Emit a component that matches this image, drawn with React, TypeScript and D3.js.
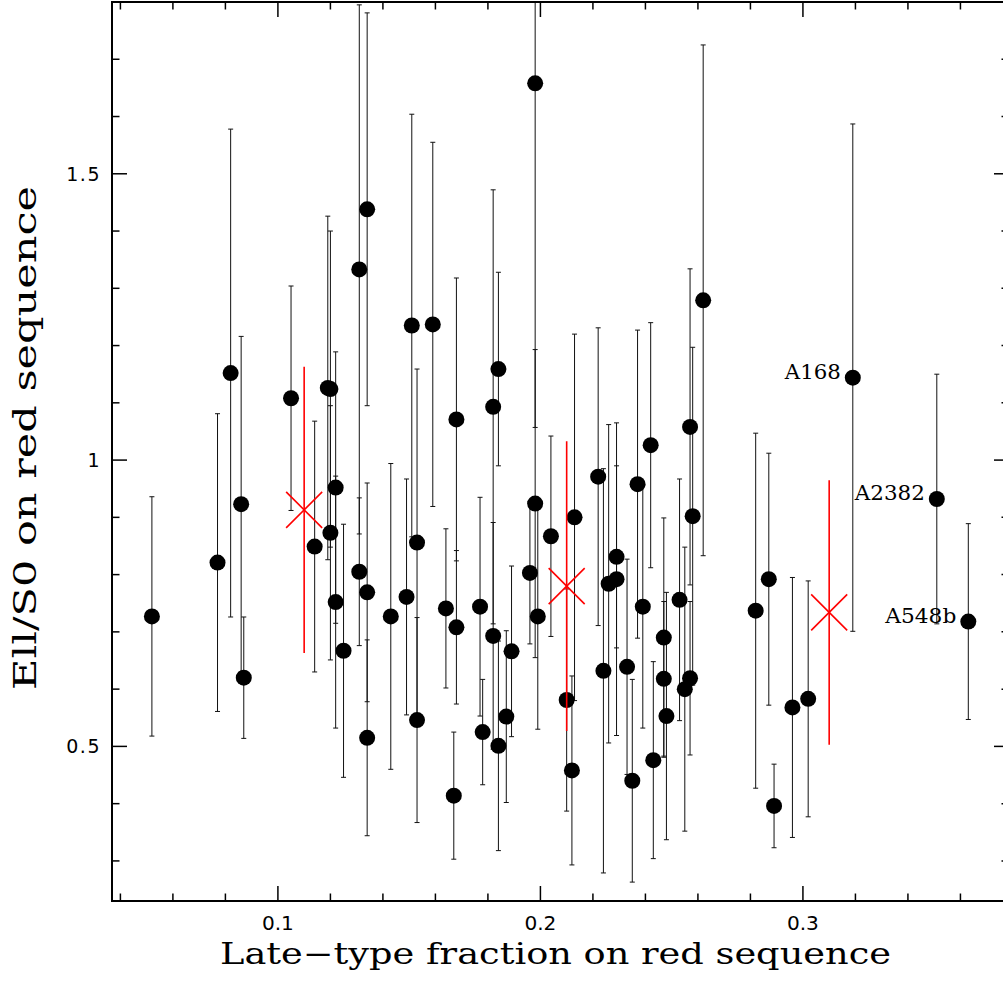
import React from 'react';
import * as d3 from 'd3';

// Late-type fraction on red sequence (x) for each cluster
const lateFrac = [
  0.052, 0.077, 0.082, 0.086, 0.087, 0.105, 0.114, 0.119, 0.120, 0.122,
  0.120, 0.122, 0.125, 0.131, 0.134, 0.134, 0.131, 0.134, 0.143, 0.149,
  0.151, 0.153, 0.153, 0.159, 0.164, 0.168, 0.168, 0.167, 0.177, 0.178,
  0.182, 0.182, 0.184, 0.184, 0.187, 0.189, 0.196, 0.198, 0.198, 0.199,
  0.204, 0.210, 0.212, 0.213, 0.222, 0.224, 0.226, 0.229, 0.229, 0.233,
  0.235, 0.237, 0.239, 0.242, 0.243, 0.247, 0.247, 0.248, 0.253, 0.255,
  0.257, 0.257, 0.258, 0.262, 0.282, 0.287, 0.289, 0.296, 0.302, 0.319,
  0.351, 0.363,
];

// Ell/S0 on red sequence (y)
const ellS0 = [
  0.727, 0.821, 1.152, 0.923, 0.620, 1.108, 0.849, 1.126, 1.124, 0.952,
  0.873, 0.752, 0.667, 0.805, 0.769, 1.438, 1.333, 0.515, 0.727, 0.761,
  1.235, 0.856, 0.546, 1.237, 0.741, 1.071, 0.708, 0.414, 0.744, 0.525,
  1.093, 0.693, 1.159, 0.501, 0.552, 0.666, 0.803, 0.924, 1.658, 0.727,
  0.867, 0.581, 0.458, 0.900, 0.971, 0.632, 0.784, 0.792, 0.831, 0.639,
  0.440, 0.958, 0.744, 1.026, 0.476, 0.690, 0.618, 0.553, 0.756, 0.600,
  0.619, 1.058, 0.902, 1.279, 0.737, 0.792, 0.396, 0.568, 0.583, 1.144,
  0.932, 0.718,
];

// symmetric errors on Ell/S0
const ellS0Err = [
  0.209, 0.260, 0.426, 0.293, 0.106, 0.196, 0.219, 0.300, 0.276, 0.237,
  0.222, 0.220, 0.221, 0.129, 0.191, 0.343, 0.462, 0.171, 0.267, 0.206,
  0.369, 0.303, 0.179, 0.318, 0.139, 0.247, 0.134, 0.111, 0.191, 0.092,
  0.379, 0.198, 0.169, 0.183, 0.150, 0.149, 0.124, 0.269, 0.601, 0.197,
  0.175, 0.194, 0.165, 0.320, 0.260, 0.353, 0.278, 0.273, 0.159, 0.188,
  0.177, 0.269, 0.212, 0.214, 0.172, 0.209, 0.135, 0.216, 0.211, 0.248,
  0.134, 0.276, 0.295, 0.446, 0.310, 0.220, 0.073, 0.227, 0.206, 0.443,
  0.218, 0.171,
];

// binned means (red crosses)
const meanFrac = [0.11, 0.21, 0.31];
const meanEll = [0.913, 0.780, 0.734];
const meanErr = [0.250, 0.253, 0.231];

// labelled clusters
const labelNames = ['A168', 'A2382', 'A548b'];
const labelFrac = [0.319, 0.351, 0.363];
const labelEll = [1.144, 0.932, 0.718];

// axis ticks
const xMajor = [0.1, 0.2, 0.3];
const xMajorLabels = ['0.1', '0.2', '0.3'];
const yMajor = [0.5, 1, 1.5];
const yMajorLabels = ['0.5', '1', '1.5'];

const W = 1003;
const H = 985;
const left = 112;
const right = 1009;
const top = 2;
const bottom = 901;

export default function App() {
  const x = d3.scaleLinear().domain([0.0368, 0.3785]).range([left, right]);
  const y = d3.scaleLinear().domain([0.23, 1.8]).range([bottom, top]);

  const xMinor = d3.range(4, 38, 2).map((v) => v / 100).filter((v) => v >= 0.0368 && v <= 0.3785 && !xMajor.some((m) => Math.abs(m - v) < 1e-6));
  const yMinor = d3.range(3, 18).map((v) => v / 10).filter((v) => v >= 0.23 && v <= 1.8 && !yMajor.some((m) => Math.abs(m - v) < 1e-6));

  const major = 15;
  const minor = 7.5;
  const cap = 2.5;
  const arm = 18;

  const serif = "'DejaVu Serif', 'Liberation Serif', serif";
  const sans = "'DejaVu Sans', 'Liberation Sans', sans-serif";

  const labelLen = [56, 70, 71];

  return (
    <svg width={W} height={H} style={{ position: 'absolute', left: 0, top: 0, background: '#fff' }}>
      <defs>
        <clipPath id="plotclip">
          <rect x={left} y={top} width={right - left} height={bottom - top} />
        </clipPath>
      </defs>
      <rect x={0} y={0} width={W} height={H} fill="#fff" />

      {/* error bars */}
      <g clipPath="url(#plotclip)" stroke="#111" strokeWidth={1} fill="none">
        {lateFrac.map((f, i) => {
          const cx = x(f);
          const y1 = y(ellS0[i] + ellS0Err[i]);
          const y2 = y(ellS0[i] - ellS0Err[i]);
          return (
            <g key={i}>
              <line x1={cx} x2={cx} y1={y1} y2={y2} />
              <line x1={cx - cap} x2={cx + cap} y1={y1} y2={y1} />
              <line x1={cx - cap} x2={cx + cap} y1={y2} y2={y2} />
            </g>
          );
        })}
      </g>

      {/* points */}
      <g fill="#000">
        {lateFrac.map((f, i) => (
          <circle key={i} cx={x(f)} cy={y(ellS0[i])} r={8} />
        ))}
      </g>

      {/* binned means */}
      <g stroke="#ff0000" strokeWidth={1.6} fill="none">
        {meanFrac.map((f, i) => {
          const cx = x(f);
          const cy = y(meanEll[i]);
          return (
            <g key={i}>
              <line x1={cx} x2={cx} y1={y(meanEll[i] + meanErr[i])} y2={y(meanEll[i] - meanErr[i])} />
              <line x1={cx - arm} x2={cx + arm} y1={cy - arm} y2={cy + arm} />
              <line x1={cx - arm} x2={cx + arm} y1={cy + arm} y2={cy - arm} />
            </g>
          );
        })}
      </g>

      {/* cluster labels */}
      <g fontFamily={serif} fontSize={20} fill="#000">
        {labelNames.map((n, i) => (
          <text
            key={n}
            x={x(labelFrac[i]) - 12 - labelLen[i]}
            y={y(labelEll[i]) + 1}
            textLength={labelLen[i]}
            lengthAdjust="spacingAndGlyphs"
          >
            {n}
          </text>
        ))}
      </g>

      {/* frame */}
      <rect x={left} y={top} width={right - left} height={bottom - top} fill="none" stroke="#000" strokeWidth={2} />

      {/* ticks */}
      <g stroke="#000" strokeWidth={1.5}>
        {xMajor.map((v) => (
          <g key={'xM' + v}>
            <line x1={x(v)} x2={x(v)} y1={bottom} y2={bottom - major} />
            <line x1={x(v)} x2={x(v)} y1={top} y2={top + major} />
          </g>
        ))}
        {xMinor.map((v) => (
          <g key={'xm' + v}>
            <line x1={x(v)} x2={x(v)} y1={bottom} y2={bottom - minor} />
            <line x1={x(v)} x2={x(v)} y1={top} y2={top + minor} />
          </g>
        ))}
        {yMajor.map((v) => (
          <g key={'yM' + v}>
            <line x1={left} x2={left + major} y1={y(v)} y2={y(v)} />
            <line x1={right} x2={right - major} y1={y(v)} y2={y(v)} />
          </g>
        ))}
        {yMinor.map((v) => (
          <g key={'ym' + v}>
            <line x1={left} x2={left + minor} y1={y(v)} y2={y(v)} />
            <line x1={right} x2={right - minor} y1={y(v)} y2={y(v)} />
          </g>
        ))}
      </g>

      {/* tick labels */}
      <g fontFamily={sans} fontSize={19} fill="#000">
        {xMajor.map((v, i) => (
          <text
            key={'xl' + v}
            x={x(v) - 16}
            y={930}
            textLength={32}
            lengthAdjust="spacingAndGlyphs"
          >
            {xMajorLabels[i]}
          </text>
        ))}
        {yMajor.map((v, i) => (
          <text key={'yl' + v} x={101} y={y(v) + 7} textAnchor="end" letterSpacing={1.5}>
            {yMajorLabels[i]}
          </text>
        ))}
      </g>

      {/* axis titles */}
      <text
        x={220}
        y={963.5}
        fontFamily={serif}
        fontSize={29}
        textLength={671}
        lengthAdjust="spacingAndGlyphs"
        fill="#000"
      >
        Late−type fraction on red sequence
      </text>
      <text
        transform="translate(36,690) rotate(-90)"
        fontFamily={serif}
        fontSize={32}
        textLength={504}
        lengthAdjust="spacingAndGlyphs"
        fill="#000"
      >
        Ell/S0 on red sequence
      </text>
    </svg>
  );
}
